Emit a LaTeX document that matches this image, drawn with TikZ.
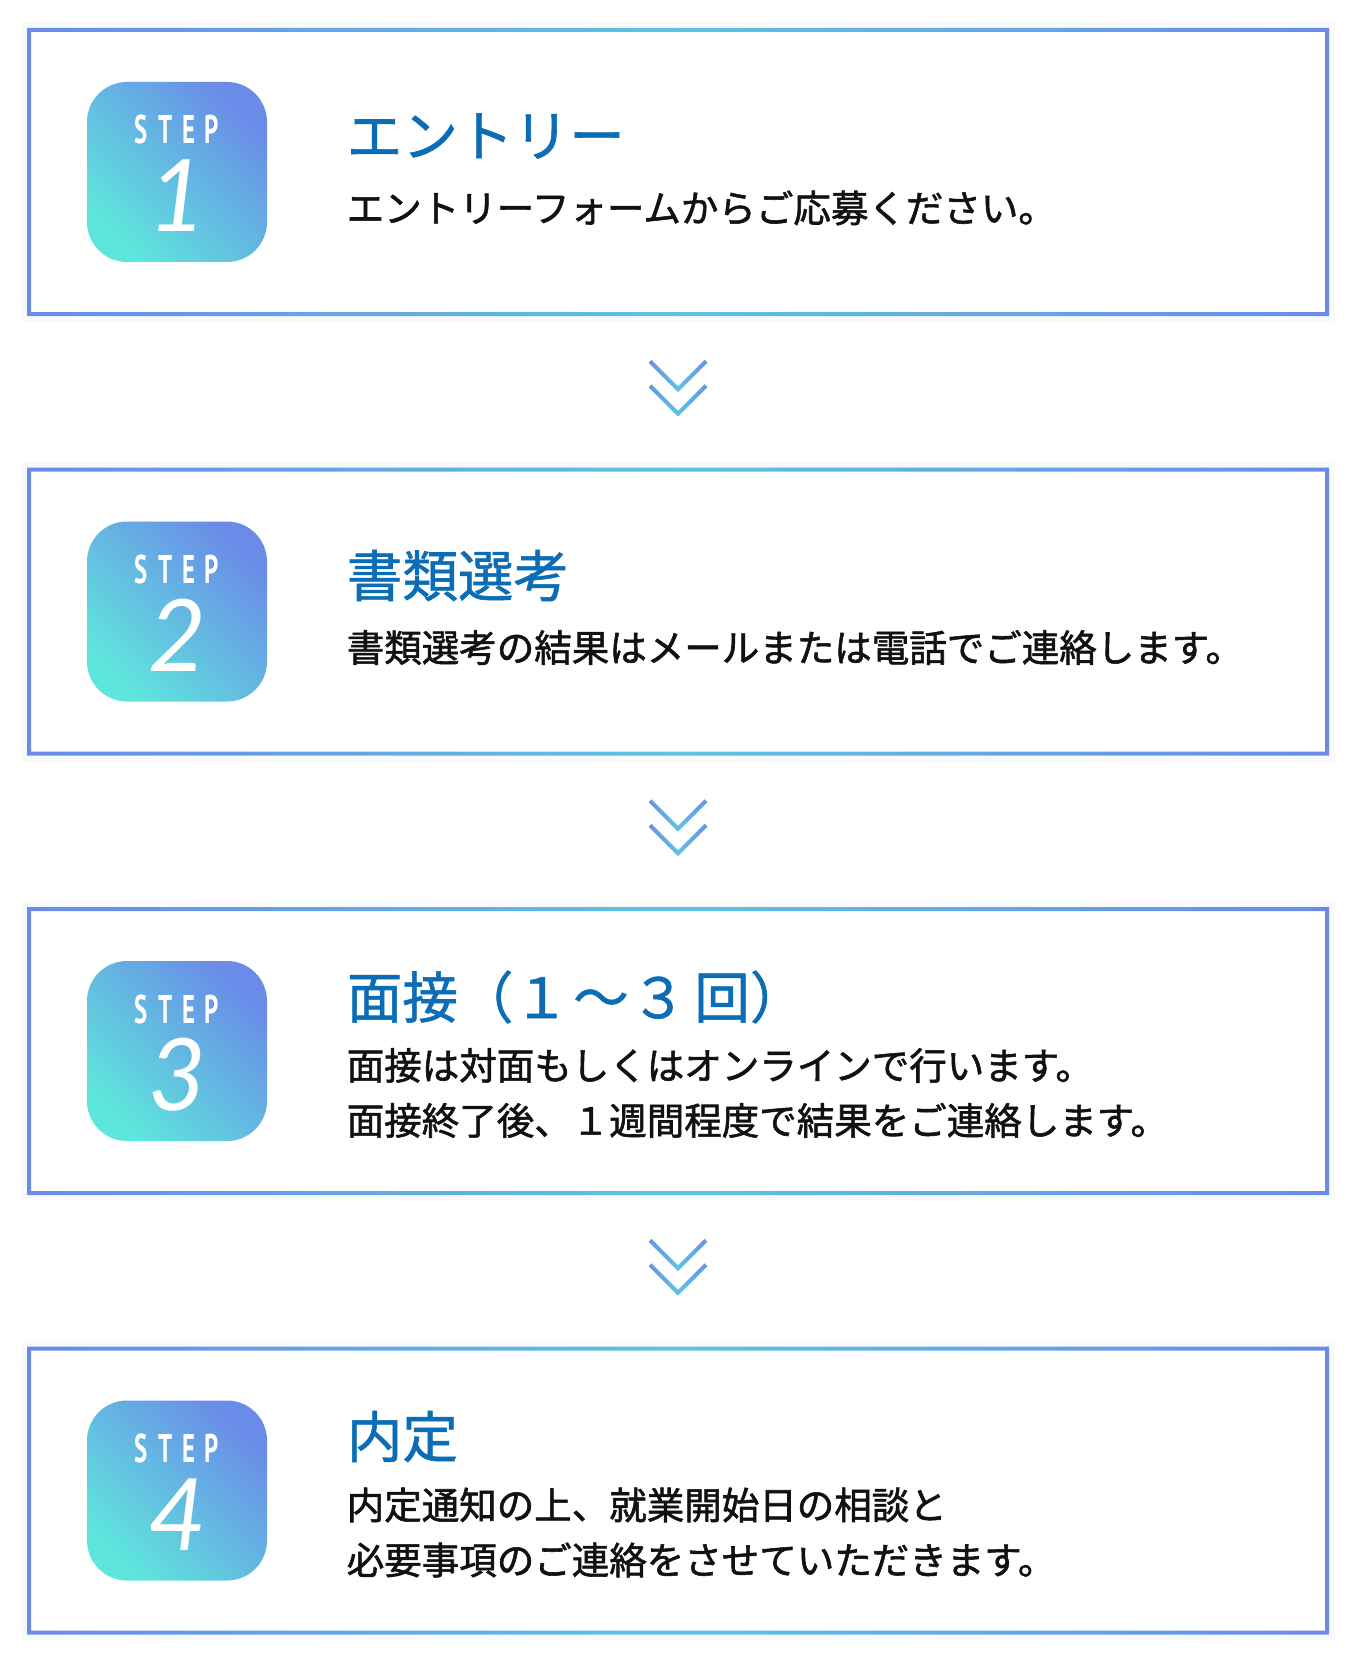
\documentclass[tikz,border=0pt]{standalone}
\usepackage{fontspec}
\usepackage{graphicx}
\setmainfont{Noto Sans CJK JP}
\newfontfamily\titlefont{Noto Sans CJK JP}[FakeBold=1]
\newfontfamily\bodyfont{Noto Sans CJK JP}[FakeBold=1.5]
\newfontfamily\stepfont{PT Sans}[LetterSpace=40]
\newfontfamily\numfont{Lato}
\usetikzlibrary{positioning,calc}

\definecolor{framepurple}{HTML}{6A8BE8}
\definecolor{framecyan}{HTML}{5DC3E2}
\definecolor{badgeaqua}{HTML}{5EE6DC}
\definecolor{titleblue}{HTML}{0A6DB5}
\definecolor{bodyblack}{HTML}{111111}
\definecolor{glowgray}{HTML}{F4F6FA}

\tikzset{
  stepbox/.style={minimum width=651pt, minimum height=144pt, inner sep=0pt, fill=white,
    preaction={draw=glowgray, line width=6pt, opacity=0.5},
    path picture={
      \shade[even odd rule, left color=framepurple, right color=framepurple, middle color=framecyan]
        (path picture bounding box.north west) rectangle (path picture bounding box.south east)
        ([shift={(2pt,-2pt)}]path picture bounding box.north west) rectangle ([shift={(-2pt,2pt)}]path picture bounding box.south east);
    }},
  stepbadge/.style={minimum size=90pt, inner sep=0pt, rounded corners=20pt,
    top color=framepurple, bottom color=badgeaqua, shading angle=-45},
  steplabel/.style={inner sep=0pt, text=white, font=\stepfont\bfseries\fontsize{20pt}{20pt}\selectfont},
  stepnum/.style={inner sep=0pt, text=white, font=\numfont\itshape\fontsize{50pt}{50pt}\selectfont},
  titletext/.style={anchor=west, inner sep=0pt, text=titleblue, font=\titlefont\fontsize{27.8pt}{27.8pt}\selectfont},
  bodytext/.style={anchor=west, inner sep=0pt, align=left, text=bodyblack, font=\bodyfont\fontsize{18.75pt}{27.5pt}\selectfont},
  chevron/.style={minimum width=34pt, minimum height=32pt, inner sep=0pt, yshift=2pt,
    path picture={
      \shade[left color=framepurple, right color=framepurple, middle color=framecyan,
        shift={(path picture bounding box.center)}]
        (-26.6,-27.9) -- (0,-1.3) -- (26.6,-27.9) -- (29.4,-25.1) -- (0,4.3) -- (-29.4,-25.1) -- cycle
        (-26.6,-3.4) -- (0,23.2) -- (26.6,-3.4) -- (29.4,-0.6) -- (0,28.8) -- (-29.4,-0.6) -- cycle;
    }}
}

\begin{document}
\begin{tikzpicture}[x=0.5pt, y=-0.5pt]
\useasboundingbox (0,0) rectangle (1357,1664);
\fill[white] (0,0) rectangle (1357,1664);

% the four steps
\begin{scope}[]
    \node[stepbox] (box1) at (678,172) {};
    \node[stepbox] (box2) at (678,611.5) {};
    \node[stepbox] (box3) at (678,1051) {};
    \node[stepbox] (box4) at (678,1490.5) {};
\end{scope}

\begin{scope}[]
    \node[stepbadge, right=30pt of box1.west] (badge1) {};
    \node[stepbadge, right=30pt of box2.west] (badge2) {};
    \node[stepbadge, right=30pt of box3.west] (badge3) {};
    \node[stepbadge, right=30pt of box4.west] (badge4) {};

    \node[steplabel] (step1) at ([yshift=21pt]badge1.center) {\scalebox{0.62}[1]{STEP}};
    \node[steplabel] (step2) at ([yshift=21pt]badge2.center) {\scalebox{0.62}[1]{STEP}};
    \node[steplabel] (step3) at ([yshift=21pt]badge3.center) {\scalebox{0.62}[1]{STEP}};
    \node[steplabel] (step4) at ([yshift=21pt]badge4.center) {\scalebox{0.62}[1]{STEP}};

    \node[stepnum] (num1) at ([yshift=-12pt]badge1.center) {1};
    \node[stepnum] (num2) at ([yshift=-12pt]badge2.center) {2};
    \node[stepnum] (num3) at ([yshift=-12pt]badge3.center) {3};
    \node[stepnum] (num4) at ([yshift=-12pt]badge4.center) {4};
\end{scope}

\begin{scope}[]
    \node[titletext] (title1) at ([xshift=39.5pt,yshift=18pt]badge1.east) {エントリー};
    \node[bodytext]  (body1)  at ([xshift=39.5pt,yshift=-18pt]badge1.east) {エントリーフォームからご応募ください。};
    \node[titletext] (title2) at ([xshift=39.5pt,yshift=18pt]badge2.east) {書類選考};
    \node[bodytext]  (body2)  at ([xshift=39.5pt,yshift=-18pt]badge2.east) {書類選考の結果はメールまたは電話でご連絡します。};
    \node[titletext] (title3) at ([xshift=39.5pt,yshift=27pt]badge3.east) {面接（１\hspace{2pt}〜\hspace{1pt}３\hspace{4pt}回）};
    \node[bodytext]  (body3)  at ([xshift=39.5pt,yshift=-21pt]badge3.east) {面接は対面もしくはオンラインで行います。\\面接終了後、１週間程度で結果をご連絡します。};
    \node[titletext] (title4) at ([xshift=39.5pt,yshift=27pt]badge4.east) {内定};
    \node[bodytext]  (body4)  at ([xshift=39.5pt,yshift=-21pt]badge4.east) {内定通知の上、就業開始日の相談と\\必要事項のご連絡をさせていただきます。};
\end{scope}

% arrows between the steps
\begin{scope}[]
    \node[chevron] (next1) at ($(box1.south)!0.5!(box2.north)$) {};
    \node[chevron] (next2) at ($(box2.south)!0.5!(box3.north)$) {};
    \node[chevron] (next3) at ($(box3.south)!0.5!(box4.north)$) {};
\end{scope}
\end{tikzpicture}
\end{document}
